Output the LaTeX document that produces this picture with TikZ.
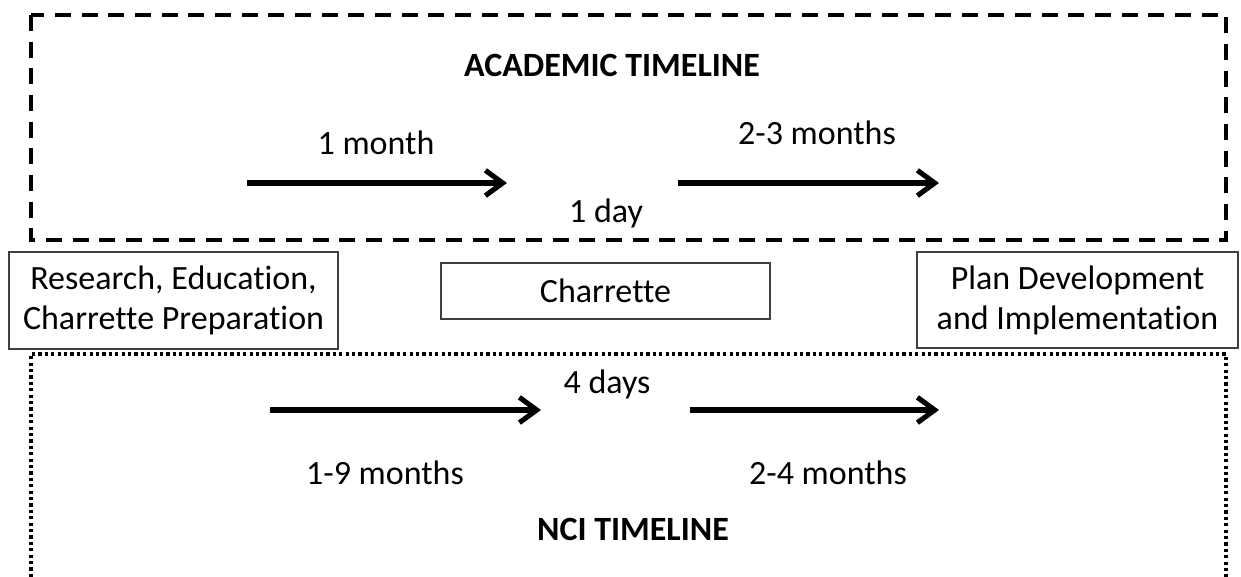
\documentclass[tikz,border=0pt]{standalone}
\usepackage{fontspec}
\setmainfont{Carlito}[Ligatures=NoCommon]
\usetikzlibrary{arrows.meta}
\begin{document}
\begin{tikzpicture}[x=0.75pt,y=-0.75pt,every node/.style={font=\fontsize{25.5}{30}\selectfont,inner sep=0pt}]

  \useasboundingbox (0,0) rectangle (1241,577);
  \tikzstyle{stage}=[draw=black!75,line width=1.2pt,align=center]
  \tikzstyle{span}=[line width=3.8pt,-{Straight Barb[length=13pt,width=19pt]}]

  % Specification of frames
  \draw[line width=2.8pt,dash pattern=on 12pt off 8pt] (31,15) rectangle (1226,240);
  \draw[line width=2.6pt,dash pattern=on 2.4pt off 2.4pt] (31,577) -- (31,354) -- (1226,354) -- (1226,577);

  % Specification of nodes (position, etc.)
  \node[stage,minimum width=246.75pt,minimum height=72.75pt] (prep) at (173.5,300.5) {Research, Education,\\Charrette Preparation};
  \node[stage,minimum width=246.75pt,minimum height=42pt] (charrette) at (605.5,291) {Charrette};
  \node[stage,minimum width=240.75pt,minimum height=72pt] (plan) at (1077.5,300) {Plan Development\\and Implementation};

  \node[anchor=base,font=\fontsize{25.5}{30}\selectfont\bfseries] (academic) at (612,77) {ACADEMIC TIMELINE};
  \node[anchor=base] (amonth) at (376,155) {1 month};
  \node[anchor=base] (amonths) at (817,145) {2-3 months};
  \node[anchor=base] (aday) at (606,223) {1 day};
  \node[anchor=base] (ndays) at (607,393) {4 days};
  \node[anchor=base] (nmonth) at (385,484) {1-9 months};
  \node[anchor=base] (nmonths) at (828,484) {2-4 months};
  \node[anchor=base,font=\fontsize{25.5}{30}\selectfont\bfseries] (nci) at (633,540) {NCI TIMELINE};

  \coordinate (a0) at (247,183);
  \coordinate (a1) at (507,183);
  \coordinate (a2) at (678,183);
  \coordinate (a3) at (939,183);
  \coordinate (n0) at (270,410);
  \coordinate (n1) at (541,410);
  \coordinate (n2) at (690,410);
  \coordinate (n3) at (939,410);

  \begin{scope}[span]
    \draw (a0) to (a1);
    \draw (a2) to (a3);
    \draw (n0) to (n1);
    \draw (n2) to (n3);
  \end{scope}

\end{tikzpicture}
\end{document}
